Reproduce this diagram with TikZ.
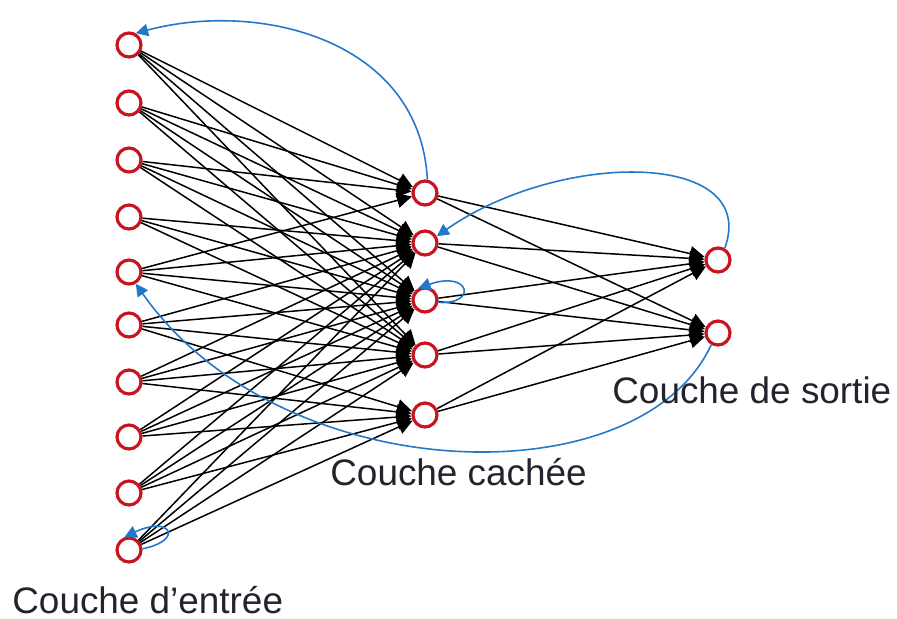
\documentclass[tikz,border=0pt]{standalone}
\usepackage{fontspec}
\setmainfont{Liberation Sans}
\usetikzlibrary{arrows.meta, positioning}
\definecolor{neurred}{RGB}{200, 20, 30}
\definecolor{fbblue}{RGB}{35, 120, 200}
\definecolor{labgray}{RGB}{35, 35, 45}

\begin{document}
\begin{tikzpicture}[x=0.02cm, y=-0.02cm,
  neur/.style={draw=neurred, circle, line width=1.8pt, minimum size=0.48cm, inner sep=0pt, fill=white},
  arr/.style={-{Triangle[length=8.5pt, width=8.5pt]}, line width=0.85pt, black},
  fb/.style={-{Triangle[length=7pt, width=7pt]}, line width=0.9pt, fbblue},
  lab/.style={anchor=west, font=\fontsize{21}{25}\selectfont, text=labgray, inner sep=0pt}
]
  \useasboundingbox (0,0) rectangle (897,619);

  % couches
  \foreach \i/\y in {1/45, 2/103, 3/160, 4/217, 5/272, 6/325, 7/382, 8/437, 9/493, 10/550}
    \node[neur] (in\i) at (129,\y) {};
  \foreach \j/\y in {1/193, 2/243, 3/300, 4/355, 5/415}
    \node[neur] (h\j) at (425,\y) {};
  \node[neur] (o1) at (718,260) {};
  \node[neur] (o2) at (718,333) {};

  % entree -> cachee
  \foreach \i/\lst in {1/{1,2,3,4}, 2/{1,2,3,4}, 3/{1,2,3,4}, 4/{2,3,4}, 5/{1,2,3,4},
                       6/{2,3,4,5}, 7/{2,3,4,5}, 8/{2,3,4,5}, 9/{2,3,4,5}, 10/{2,3,4,5}}
    \foreach \j in \lst
      \draw[arr] (in\i) -- (h\j);

  % cachee -> sortie
  \foreach \j in {1,...,5} {
    \draw[arr] (h\j) -- (o1);
    \draw[arr] (h\j) -- (o2);
  }

  % retours
  \draw[fb] (h1.80) .. controls (420,40) and (260,0) .. (in1.60);
  \draw[fb] (o1.60) .. controls (760,150) and (560,150) .. (h2.30);
  \draw[fb] (h3.-10) .. controls (478,305) and (470,270) .. (h3.120);
  \draw[fb] (o2.-120) .. controls (640,500) and (280,490) .. (in5.-60);
  \draw[fb] (in10.5) .. controls (185,540) and (170,515) .. (in10.110);

  % legendes
  \node[lab] (lin) at (12,600) {Couche d'entrée};
  \node[lab] (lhid) at (330,472) {Couche cachée};
  \node[lab] (lout) at (612,390) {Couche de sortie};
\end{tikzpicture}
\end{document}
